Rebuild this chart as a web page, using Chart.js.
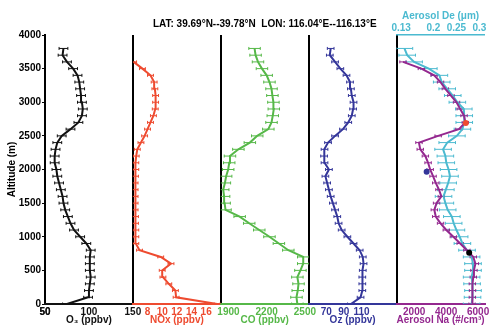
<!DOCTYPE html>
<html>
<head>
<meta charset="utf-8">
<script src="https://cdn.jsdelivr.net/npm/chart.js@4.4.1/dist/chart.umd.min.js"></script>
<style>
  html, body { margin: 0; padding: 0; background: #fff; }
</style>
</head>
<body>
<canvas id="chart" width="496" height="334"></canvas>
<script>
// altitude levels (m) shared by every profile
const ALT = [0, 100, 200, 300, 400, 500, 600, 700, 800, 900, 1000, 1100, 1200, 1300, 1400, 1500, 1600, 1700, 1800, 1900,
  2000, 2100, 2200, 2300, 2400, 2500, 2600, 2700, 2800, 2900, 3000, 3100, 3200, 3300, 3400, 3500, 3600, 3700, 3800]

const O3 = [75, 99, 100, 101, 102, 101, 101, 101, 102, 97, 90, 83, 79, 76, 73, 71, 70, 68, 66, 64,
  63, 61, 61, 62, 64, 69, 79, 88, 92, 93, 92, 91, 90, 89, 87, 82, 75, 70, 71]
const NOX = [17.5, 11.9, 11.8, 10.9, 10.1, 10.0, 11.2, 9.8, 6.9, 6.4, 6.4, 6.4, 6.35, 6.35, 6.3, 6.3, 6.3, 6.3, 6.3, 6.35,
  6.4, 6.4, 6.45, 6.6, 7.1, 7.6, 8.0, 8.4, 8.8, 9.05, 9.1, 9.1, 9.0, 8.9, 8.4, 7.3, 6.1, null, null]
const CO = [2441, 2434, 2444, 2450, 2441, 2465, 2487, 2487, 2370, 2296, 2222, 2142, 2063, 1988, 1877, 1870, 1866, 1859, 1872, 1882,
  1898, 1906, 1912, 1978, 2068, 2126, 2213, 2238, 2248, 2256, 2253, 2245, 2238, 2222, 2200, 2163, 2132, 2113, 2105]
const OZ = [98, 109, 111, 111, 111, 111.5, 112.4, 111.5, 108, 101, 94, 87.5, 84, 82.5, 80, 77.5, 75, 73, 71, 69,
  73, 68, 67.5, 68, 72, 80, 89, 95, 99, 100.5, 101, 99, 98, 97, 93, 86, 80, 74, 75]
const NA = [5620, 5640, 5650, 5640, 5700, 5740, 5830, 5700, 5300, 4880, 4450, 4010, 3650, 3350, 3260, 3400, 3700, 3550, 3350, 3180,
  3000, 2870, 2700, 2380, 2300, 3500, 4800, 5200, 5120, 4880, 4650, 4300, 3950, 3650, 3250, 2450, 1300, null, null]
const DE = [0.283, 0.285, 0.286, 0.284, 0.283, 0.286, 0.286, 0.283, 0.273, 0.263, 0.257, 0.25, 0.244, 0.24, 0.231, 0.226, 0.222, 0.227, 0.232, 0.236,
  0.233, 0.228, 0.226, 0.221, 0.23, 0.251, 0.263, 0.267, 0.267, 0.266, 0.252, 0.242, 0.23, 0.218, 0.213, 0.19, 0.158, 0.143, 0.137]

// half width of the error bars, per profile
const O3_ERR = 5
const NOX_ERR = 0.4
const CO_ERR = 45
const OZ_ERR = 3.8
const NA_ERR = 200
const DE_ERR = 0.018

// single highlighted samples on the Na profile
const MARK_NA = [5230, 2780, 5440]
const MARK_ALT = [2690, 1967, 763]

// tick labels
const O3_TICKS = [50, 100, 150]
const NOX_TICKS = [8, 10, 12, 14, 16]
const CO_TICKS = [1900, 2200, 2500]
const OZ_TICKS = [70, 90, 110]
const NA_TICKS = [2000, 4000, 6000]
const DE_TICKS = [0.13, 0.2, 0.25, 0.3]

const BLACK = "#111"
const RED = "#ee4b30"
const GREEN = "#56b848"
const BLUE = "#34369a"
const MAGENTA = "#94288f"
const CYAN = "#4bbad0"

Chart.defaults.font.family = "'Liberation Sans', Arial, sans-serif"
const bold = { size: 10, weight: "bold" }

function profile(vals, axis, color) {
  return {
    data: ALT.map((a, i) => ({ x: vals[i], y: a })),
    xAxisID: axis, yAxisID: "y",
    showLine: true, borderColor: color, borderWidth: 2,
    pointRadius: 0, spanGaps: false, order: 1
  }
}

function errorBars(vals, err, axis, color) {
  const pts = []
  ALT.forEach((a, i) => {
    if (vals[i] == null) return
    pts.push({ x: vals[i] - err, y: a }, { x: vals[i] + err, y: a }, { x: null, y: a })
  })
  return {
    data: pts, xAxisID: axis, yAxisID: "y",
    showLine: true, borderColor: color, borderWidth: 1, spanGaps: false,
    pointStyle: "line", rotation: 90, pointRadius: 1.5,
    pointBorderColor: color, pointBorderWidth: 1, order: 5
  }
}

function bottomAxis(min, max, ticks, color, title) {
  return {
    type: "linear", axis: "x", position: "bottom", stack: "bottom",
    min: min, max: max,
    afterBuildTicks: s => { s.ticks = [min, ...ticks].map(v => ({ value: v })) },
    afterFit: s => { s.height = 30 },
    grid: {
      drawTicks: false, drawOnChartArea: true, lineWidth: 2,
      color: c => (c.tick && c.tick.value === min) ? "#000" : "rgba(0,0,0,0)"
    },
    border: { color: color, width: 2 },
    ticks: {
      color: color, font: bold, padding: 2, autoSkip: false, maxRotation: 0,
      callback: v => ticks.includes(v) ? String(v) : ""
    },
    title: { display: true, text: title, color: color, font: bold, padding: { top: 0, bottom: 8 } }
  }
}

// empty spacer on the top row; the top row is laid out right to left
function topSpacer(weight, title) {
  return {
    type: "linear", axis: "x", position: "top", stack: "top", stackWeight: weight,
    min: 0, max: 1,
    afterFit: s => { s.height = 35 },
    grid: { display: false },
    border: { display: false },
    ticks: { display: false },
    title: { display: !!title, text: title || "", color: "#000", font: bold, padding: { top: 18, bottom: 0 } }
  }
}

new Chart(document.getElementById("chart"), {
  type: "scatter",
  data: {
    datasets: [
      profile(O3, "o3", BLACK),
      profile(NOX, "nox", RED),
      profile(CO, "co", GREEN),
      profile(OZ, "oz", BLUE),
      profile(NA, "na", MAGENTA),
      Object.assign(profile(DE, "de", CYAN), { order: 2 }),
      errorBars(O3, O3_ERR, "o3", BLACK),
      errorBars(NOX, NOX_ERR, "nox", RED),
      errorBars(CO, CO_ERR, "co", GREEN),
      errorBars(OZ, OZ_ERR, "oz", BLUE),
      errorBars(NA, NA_ERR, "na", MAGENTA),
      errorBars(DE, DE_ERR, "de", CYAN),
      {
        data: MARK_NA.map((v, i) => ({ x: v, y: MARK_ALT[i] })),
        xAxisID: "na", yAxisID: "y",
        pointRadius: 3, pointBorderWidth: 0,
        pointBackgroundColor: [RED, BLUE, "#000"], order: 0
      }
    ]
  },
  options: {
    responsive: false,
    animation: false,
    layout: { padding: { right: 7 } },
    plugins: { legend: { display: false }, tooltip: { enabled: false } },
    scales: {
      de: {
        type: "linear", axis: "x", position: "top", stack: "top",
        min: 0.12, max: 0.311,
        afterBuildTicks: s => { s.ticks = DE_TICKS.map(v => ({ value: v })) },
        afterFit: s => { s.height = 35 },
        grid: { display: false, drawTicks: false },
        border: { color: CYAN, width: 1.5 },
        ticks: { color: CYAN, font: bold, padding: 1, autoSkip: false, maxRotation: 0, callback: v => String(v) },
        title: { display: true, text: "Aerosol De (μm)", color: CYAN, font: bold, padding: { top: 10, bottom: 0 } }
      },
      tmid: topSpacer(3, "LAT: 39.69°N--39.78°N  LON: 116.04°E--116.13°E"),
      tleft: topSpacer(1),
      y: {
        type: "linear", position: "left",
        min: 0, max: 4000,
        afterFit: s => { s.width = 45 },
        grid: { drawOnChartArea: false, drawTicks: true, tickLength: 3, color: "#000" },
        border: { color: "#000", width: 2 },
        ticks: { stepSize: 500, color: "#000", font: bold, padding: 1, callback: v => String(v) },
        title: { display: true, text: "Altitude (m)", color: "#000", font: bold, padding: { top: 6, bottom: 0 } }
      },
      o3: bottomAxis(50, 150, O3_TICKS, BLACK, "O₃ (ppbv)"),
      nox: bottomAxis(6, 18, NOX_TICKS, RED, "NOx (ppbv)"),
      co: bottomAxis(1840, 2530, CO_TICKS, GREEN, "CO (ppbv)"),
      oz: bottomAxis(50, 150, OZ_TICKS, BLUE, "Oz (ppbv)"),
      na: bottomAxis(900, 6400, NA_TICKS, MAGENTA, "Aerosol Na (#/cm³)")
    }
  }
})
</script>
</body>
</html>
